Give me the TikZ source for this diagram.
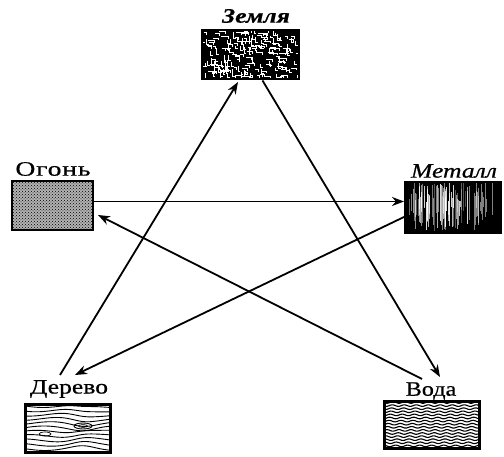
\documentclass[tikz,border=0pt]{standalone}
\usepackage{fontspec}
\setmainfont{Liberation Serif}
\newfontfamily\labfont[FakeStretch=1.25,FakeBold=0.6]{Liberation Serif}
\newfontfamily\vodafont[FakeStretch=1.18,FakeBold=0.6]{Liberation Serif}
\newfontfamily\ognfont[FakeStretch=1.35,FakeBold=0.6,LetterSpace=4]{Liberation Serif}
\usetikzlibrary{arrows.meta,calc,patterns}
\begin{document}
\begin{tikzpicture}[x=1pt,y=-1pt,
  lab/.style={inner sep=0pt,font=\labfont\fontsize{20.5}{22}\selectfont},
  tile/.style={draw=black,line width=2pt,inner sep=0pt,minimum width=#1,minimum height=47pt},
  conn/.style={line width=1.8pt,-{Stealth[length=12pt,width=9pt]}}]
\useasboundingbox (0,0) rectangle (504,457);
\fill[white] (0,0) rectangle (504,457);
% labels
\node[lab] (zlab) at (256,16) {\bfseries\itshape Земля};
\node[lab,font=\ognfont\fontsize{20.5}{22}\selectfont] (olab) at (53,169) {Огонь};
\node[lab] (mlab) at (454,171) {\itshape Металл};
\node[lab] (dlab) at (69,389) {Дерево};
\node[lab,font=\vodafont\fontsize{20.5}{22}\selectfont] (vlab) at (431,391) {Вода};
% tiles
\node[tile=95pt] (zbox) at (250.5,54.5) {};
\node[tile=79pt] (obox) at (52.5,205.5) {};
\node[tile=94pt,minimum height=49pt] (mbox) at (453,207.5) {};
\node[tile=84pt] (dbox) at (68,428.5) {};
\node[tile=94pt,minimum height=46pt] (vbox) at (432,425) {};
% Earth texture
\begin{scope}
\clip (zbox.south west) rectangle (zbox.north east);
\fill[black] (zbox.south west) rectangle (zbox.north east);
\begin{scope}[shift={(zbox.north west)}]
\pgfmathsetseed{7}
\foreach \i in {1,...,190}{
  \pgfmathsetmacro\xx{rnd*95}
  \pgfmathsetmacro\yy{rnd*47}
  \pgfmathsetmacro\ll{2+rnd*5}
  \pgfmathsetmacro\dd{rnd}
  \ifdim\dd pt<0.5pt
    \draw[white,line width=0.6pt] (\xx,\yy) -- ++(\ll,0) -- ++(0,2.5);
  \else
    \draw[white,line width=0.6pt] (\xx,\yy) -- ++(0,\ll) -- ++(2.5,0);
  \fi
}
\end{scope}
\end{scope}
% Fire texture
\fill[black!30] (obox.south west) rectangle (obox.north east);
\fill[pattern=crosshatch dots,pattern color=black] (obox.south west) rectangle (obox.north east);
% Metal texture
\begin{scope}
\clip (mbox.south west) rectangle (mbox.north east);
\fill[black] (mbox.south west) rectangle (mbox.north east);
\begin{scope}[shift={(mbox.north west)}]
\pgfmathsetseed{11}
\foreach \i in {1,...,70}{
  \pgfmathsetmacro\xx{4+rnd*60}
  \pgfmathsetmacro\ya{rnd*20}
  \pgfmathsetmacro\yb{25+rnd*24}
  \pgfmathsetmacro\op{0.3+rnd*0.6}
  \draw[white,opacity=\op,line width=0.5pt] (\xx,\ya) -- (\xx,\yb);
}
\foreach \i in {1,...,15}{
  \pgfmathsetmacro\xx{64+rnd*26}
  \pgfmathsetmacro\ya{rnd*20}
  \pgfmathsetmacro\yb{25+rnd*24}
  \draw[white,opacity=0.5,line width=0.4pt] (\xx,\ya) -- (\xx,\yb);
}
\end{scope}
\end{scope}
% Wood texture
\begin{scope}
\clip (dbox.south west) rectangle (dbox.north east);
\begin{scope}[shift={(dbox.north west)}]
\foreach \i in {0,...,10}{
  \draw[line width=0.9pt] plot[domain=0:84,samples=40,smooth] (\x,{2+4.3*\i+1.5*sin(\x*5+\i*35)+ (\i<6 ? 1.8 : -1.8)*exp(-((\x-58)/14)^2)});
}
\draw[line width=0.9pt] (58,22) ellipse (9 and 3);
\draw[line width=0.7pt] (58,22) ellipse (4.5 and 1.4);
\draw[line width=0.7pt] (20,30) ellipse (6 and 2);
\end{scope}
\end{scope}
% Water texture
\begin{scope}
\clip (vbox.south west) rectangle (vbox.north east);
\begin{scope}[shift={(vbox.north west)}]
\foreach \i in {0,...,14}{
  \draw[line width=1.1pt] plot[domain=0:94,samples=60,smooth] (\x,{1.5+3.1*\i+0.8*sin(\x*30+\i*20)});
}
\end{scope}
\end{scope}
% redraw borders
\foreach \b in {zbox,obox,mbox,dbox,vbox}{
  \draw[line width=2pt] (\b.south west) rectangle (\b.north east);
}
% connectors
\coordinate (a1s) at ($(obox.east)+(1,-4)$);
\draw[conn] (a1s) -- ($(a1s -| mbox.west)+(-1,0)$);
\draw[conn] ($(zbox.south)+(12,1.5)$) -- ($(vlab.center)+(9,-14)$);
\draw[conn] ($(vlab.center)+(-9,-12)$) -- ($(obox.east)+(5,9.5)$);
\draw[conn] ($(mbox.west)+(-1,9.5)$) -- ($(dlab.center)+(6,-14)$);
\draw[conn] ($(dlab.center)+(-9,-14)$) -- ($(zbox.south)+(-12.5,3)$);
\end{tikzpicture}
\end{document}
